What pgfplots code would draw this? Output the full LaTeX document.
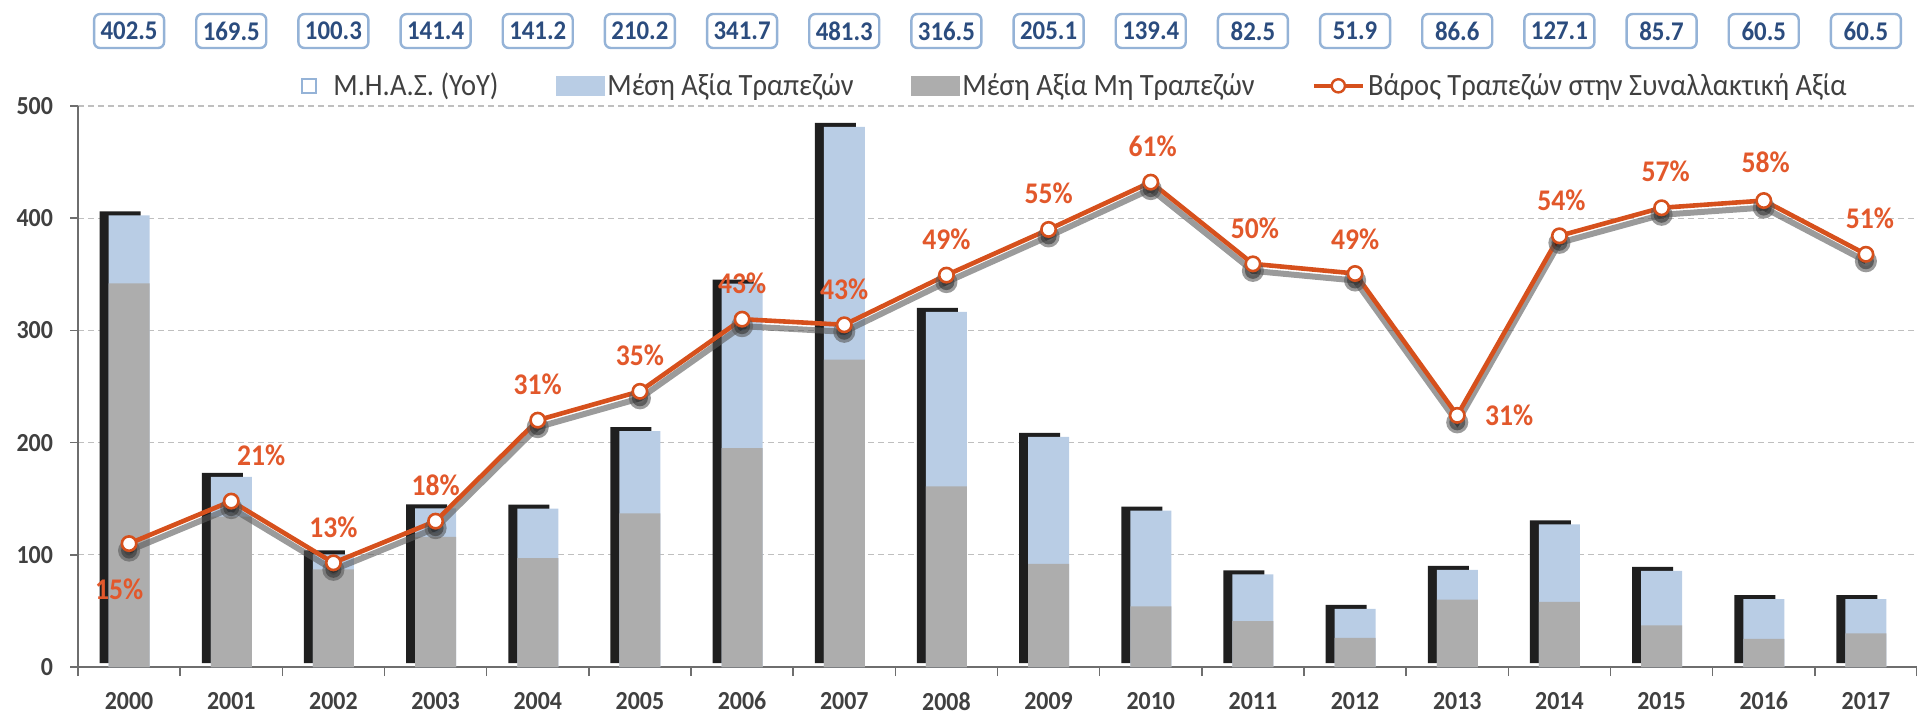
\documentclass[border=0pt]{standalone}
\usepackage{pgfplots}
\pgfplotsset{compat=1.18}
\usepackage{pgfplotstable}
\usepackage{fontspec}
\setmainfont{Carlito}[FakeStretch=0.92]
\definecolor{barblue}{HTML}{B9CDE5}
\definecolor{bargrey}{HTML}{ADADAD}
\definecolor{lineor}{HTML}{D6501C}
\definecolor{pcttxt}{HTML}{E2582B}
\definecolor{boxborder}{HTML}{95B3D7}
\definecolor{boxtxt}{HTML}{2B4C7E}
\definecolor{ticktxt}{HTML}{404040}
\definecolor{axisgrey}{HTML}{6E6E6E}
\definecolor{gridgrey}{HTML}{BFBFBF}

\pgfplotstableread{
i total grey
0 402.5 342
1 169.5 134
2 100.3 87
3 141.4 116
4 141.2 97
5 210.2 137
6 341.7 195
7 481.3 274
8 316.5 161
9 205.1 92
10 139.4 54
11 82.5 41
12 51.9 26
13 86.6 60
14 127.1 58
15 85.7 37
16 60.5 25
17 60.5 30
}\bars

\pgfplotstableread{
i pct lab dx dy
0 15.4 15 -5 -23
1 20.7 21 15 23
2 13.0 13 0 18
3 18.2 18 0 18
4 30.8 31 0 18
5 34.4 35 0 18
6 43.4 43 0 18
7 42.7 43 0 18
8 48.9 49 0 18
9 54.6 55 0 18
10 60.5 61 1 18
11 50.3 50 1 18
12 49.1 49 0 17
13 31.4 31 26 0
14 53.8 54 1 18
15 57.3 57 2 18
16 58.2 58 1 19
17 51.5 51 2 18
}\share

\begin{document}
\begin{tikzpicture}
\useasboundingbox (-39pt,-23pt) rectangle (919.5pt,333.5pt);
\begin{axis}[
  width=919.5pt, height=280.5pt, scale only axis,
  at={(0pt,0pt)}, anchor=south west,
  xmin=-0.5, xmax=17.5, ymin=0, ymax=500,
  clip=false,
  axis lines*=left,
  axis line style={draw=axisgrey, line width=0.8pt},
  xtick={0,...,17},
  xticklabels={2000,2001,2002,2003,2004,2005,2006,2007,2008,2009,2010,2011,2012,2013,2014,2015,2016,2017},
  minor xtick={-0.5,0.5,...,17.5},
  major x tick style={draw=none},
  minor x tick style={draw=axisgrey, line width=0.8pt},
  tick align=outside,
  minor tick length=4.5pt,
  major tick length=4pt,
  ytick={0,100,...,500},
  y tick style={draw=axisgrey, line width=0.8pt},
  ymajorgrids,
  grid style={gridgrey, dash pattern=on 3pt off 2pt, line width=0.6pt},
  /pgf/number format/assume math mode=true,
  ticklabel style={font=\bfseries\fontsize{13}{14}\selectfont, text=ticktxt},
  xticklabel style={yshift=-5pt},
  yticklabel style={xshift=-5pt},
  legend columns=4,
  legend cell align=left,
  legend style={at={(0.5424,1.036)}, anchor=center, draw=none, fill=none,
    font=\fontsize{15.5}{16}\selectfont, text=ticktxt,
    nodes={inner xsep=1.5pt},
    /tikz/every even column/.append style={column sep=27pt}},
]
% legend images
\addlegendimage{legend image code/.code={\draw[draw=boxborder, fill=white, line width=1pt] (0pt,-3.4pt) rectangle (6.8pt,3.4pt); \path[draw=none, fill=none] (0pt,-1pt) rectangle (14pt,1pt);}}
\addlegendentry{Μ.Η.Α.Σ. (YoY)}
\addlegendimage{legend image code/.code={\fill[barblue] (0pt,-4.8pt) rectangle (24pt,4.8pt);}}
\addlegendentry{Μέση Αξία Τραπεζών}
\addlegendimage{legend image code/.code={\fill[bargrey] (0pt,-4.8pt) rectangle (24pt,4.8pt);}}
\addlegendentry{Μέση Αξία Μη Τραπεζών}
\addlegendimage{legend image code/.code={\draw[lineor, line width=2.2pt] (0pt,0pt) -- (24.5pt,0pt); \draw[lineor, fill=white, line width=1.2pt] (12.25pt,0pt) circle (3.3pt);}}
\addlegendentry{Βάρος Τραπεζών στην Συναλλακτική Αξία}

% shadow bars
\addplot[ybar, bar width=20.5pt, bar shift=-4.5pt, fill=black!88, draw=none, yshift=2pt, forget plot]
  table[x=i, y=total] {\bars};
% bank (top) part: full total in light blue
\addplot[ybar, bar width=20.5pt, bar shift=0pt, fill=barblue, draw=none, forget plot]
  table[x=i, y=total] {\bars};
% non-bank part
\addplot[ybar, bar width=20.5pt, bar shift=0pt, fill=bargrey, draw=none, forget plot]
  table[x=i, y=grey] {\bars};
% total boxes
\addplot[draw=none, forget plot, point meta=explicit symbolic, nodes near coords,
  nodes near coords style={anchor=center, yshift=37.5pt, draw=boxborder, line width=1.2pt,
    rounded corners=3pt, fill=white, text=boxtxt, minimum width=35pt, minimum height=17pt,
    inner sep=0pt, font=\bfseries\fontsize{13.5}{14}\selectfont}]
  table[x=i, y expr=500, meta=total] {\bars};
\end{axis}

\begin{axis}[
  width=919.5pt, height=280.5pt, scale only axis,
  at={(0pt,0pt)}, anchor=south west,
  xmin=-0.5, xmax=17.5, ymin=0, ymax=70,
  hide axis, clip=false,
]
\addplot[black!65, opacity=0.6, line width=3pt, yshift=-3.5pt, mark=*, mark size=4pt,
  mark options={fill=black, draw=none}]
  table[x=i, y=pct] {\share};
\addplot[lineor, line width=2.3pt, mark=*, mark size=3.6pt,
  mark options={fill=white, draw=lineor, line width=1.3pt}]
  table[x=i, y=pct] {\share};
\addplot[draw=none, point meta=explicit symbolic,
  visualization depends on={\thisrow{dx} \as \dx},
  visualization depends on={\thisrow{dy} \as \dy},
  nodes near coords={\pgfplotspointmeta\%},
  nodes near coords style={anchor=center, xshift=\dx pt, yshift=\dy pt, text=pcttxt,
    font=\bfseries\fontsize{15}{15}\selectfont}]
  table[x=i, y=pct, meta=lab] {\share};
\end{axis}
\end{tikzpicture}
\end{document}
